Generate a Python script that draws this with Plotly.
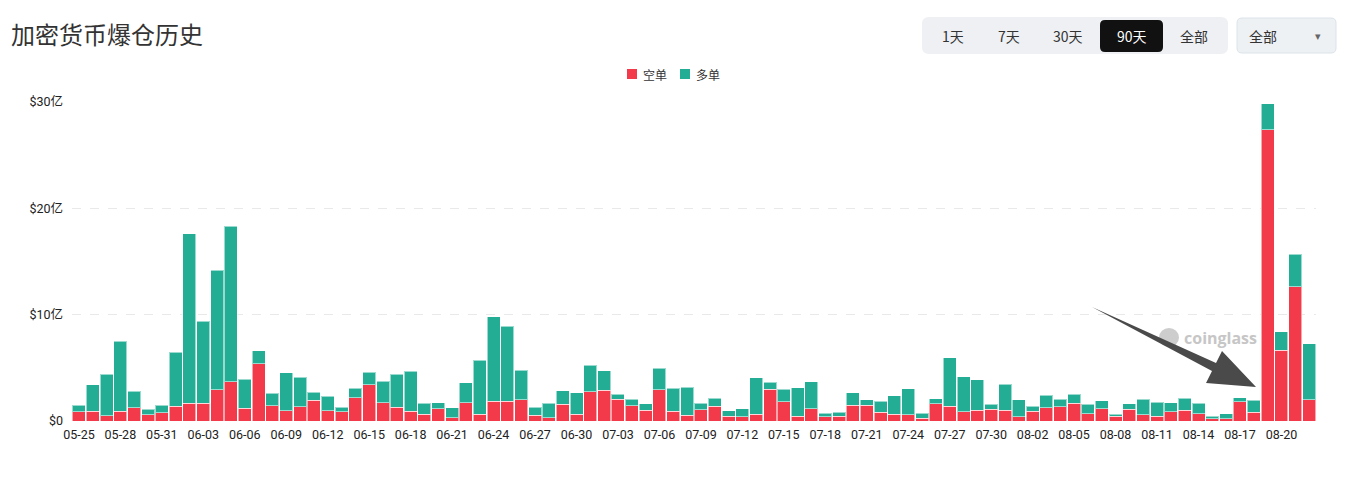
import plotly.graph_objects as go

# Data (单位: 亿美元)
dates = [
    "05-25", "05-26", "05-27", "05-28", "05-29", "05-30", "05-31",
    "06-01", "06-02", "06-03", "06-04", "06-05", "06-06", "06-07", "06-08", "06-09", "06-10",
    "06-11", "06-12", "06-13", "06-14", "06-15", "06-16", "06-17", "06-18", "06-19", "06-20",
    "06-21", "06-22", "06-23", "06-24", "06-25", "06-26", "06-27", "06-28", "06-29", "06-30",
    "07-01", "07-02", "07-03", "07-04", "07-05", "07-06", "07-07", "07-08", "07-09", "07-10",
    "07-11", "07-12", "07-13", "07-14", "07-15", "07-16", "07-17", "07-18", "07-19", "07-20",
    "07-21", "07-22", "07-23", "07-24", "07-25", "07-26", "07-27", "07-28", "07-29", "07-30",
    "07-31", "08-01", "08-02", "08-03", "08-04", "08-05", "08-06", "08-07", "08-08", "08-09",
    "08-10", "08-11", "08-12", "08-13", "08-14", "08-15", "08-16", "08-17", "08-18", "08-19",
    "08-20", "08-21", "08-22",
]
short_liq = [
    0.88, 0.94, 0.50, 0.94, 1.25, 0.60, 0.78,
    1.40, 1.69, 1.69, 2.94, 3.69, 1.22, 5.38, 1.44, 0.97, 1.34,
    1.97, 0.97, 0.88, 2.19, 3.40, 1.72, 1.28, 0.94, 0.63, 1.16,
    0.31, 1.72, 0.63, 1.88, 1.88, 2.00, 0.56, 0.31, 1.56, 0.63,
    2.75, 2.90, 2.03, 1.44, 1.00, 2.94, 0.94, 0.56, 1.06, 1.40,
    0.47, 0.40, 0.63, 3.00, 1.80, 0.47, 1.13, 0.38, 0.44, 1.50,
    1.50, 0.81, 0.63, 0.60, 0.28, 1.60, 1.40, 0.88, 1.00, 1.09,
    1.00, 0.40, 0.90, 1.25, 1.34, 1.69, 0.69, 1.16, 0.44, 1.09,
    0.60, 0.44, 0.88, 1.03, 0.69, 0.22, 0.19, 1.80, 0.84, 27.38,
    6.66, 12.63, 2.00,
]
long_liq = [
    0.60, 2.46, 3.88, 6.56, 1.56, 0.49, 0.72,
    5.07, 15.91, 7.69, 11.26, 14.61, 2.72, 1.25, 1.19, 3.56, 2.79,
    0.72, 1.34, 0.41, 0.90, 1.19, 2.03, 3.10, 3.72, 1.04, 0.56,
    0.94, 1.88, 5.10, 7.91, 7.03, 2.75, 0.72, 1.38, 1.28, 2.04,
    2.50, 1.82, 0.47, 0.59, 0.63, 2.00, 2.12, 2.60, 0.63, 0.73,
    0.50, 0.73, 3.44, 0.66, 1.17, 2.66, 2.57, 0.35, 0.40, 1.16,
    0.50, 1.03, 1.75, 2.43, 0.44, 0.49, 4.54, 3.29, 2.90, 0.47,
    2.44, 1.60, 0.50, 1.15, 0.69, 0.81, 0.87, 0.74, 0.19, 0.54,
    1.46, 1.31, 0.82, 1.10, 1.00, 0.25, 0.50, 0.39, 1.10, 2.47,
    1.72, 3.04, 5.25,
]
y_ticks = [0, 10, 20, 30]
y_tick_labels = ["$0", "$10亿", "$20亿", "$30亿"]
range_buttons = ["1天", "7天", "30天", "90天", "全部"]
series_names = ["空单", "多单"]

RED = "#F33A4A"
GREEN = "#22AD94"
CJK = "Noto Sans CJK SC"

W, H = 1350, 477
ML, MR, MT, MB = 72, 34, 102, 56
PW, PH = W - ML - MR, H - MT - MB


def px(x):
    return (x - ML) / PW


def py(y):
    return (H - MB - y) / PH


def rounded_rect(x0, y0, x1, y1, r):
    # pixel coords -> paper path with rounded corners
    pts = [
        f"M{px(x0 + r)},{py(y0)}",
        f"L{px(x1 - r)},{py(y0)}",
        f"Q{px(x1)},{py(y0)} {px(x1)},{py(y0 + r)}",
        f"L{px(x1)},{py(y1 - r)}",
        f"Q{px(x1)},{py(y1)} {px(x1 - r)},{py(y1)}",
        f"L{px(x0 + r)},{py(y1)}",
        f"Q{px(x0)},{py(y1)} {px(x0)},{py(y1 - r)}",
        f"L{px(x0)},{py(y0 + r)}",
        f"Q{px(x0)},{py(y0)} {px(x0 + r)},{py(y0)}",
        "Z",
    ]
    return " ".join(pts)


fig = go.Figure()

fig.add_trace(go.Bar(
    x=dates, y=short_liq, name=series_names[0],
    marker=dict(color=RED, line=dict(color="rgba(255,255,255,0.55)", width=1)),
))
fig.add_trace(go.Bar(
    x=dates, y=long_liq, name=series_names[1],
    marker=dict(color=GREEN, line=dict(color="rgba(255,255,255,0.55)", width=1)),
))

fig.update_layout(
    width=W, height=H,
    barmode="stack",
    bargap=0.06,
    plot_bgcolor="white",
    paper_bgcolor="white",
    margin=dict(l=ML, r=MR, t=MT, b=MB, autoexpand=False),
    font=dict(family="Roboto, " + CJK, color="#333333", size=11),
    showlegend=False,
    hovermode="x unified",
)

fig.update_xaxes(
    type="category",
    tickvals=dates[::3],
    ticktext=dates[::3],
    tickangle=0,
    showgrid=False,
    showline=False,
    ticks="",
    ticklabelstandoff=4,
    tickfont=dict(family="Roboto", size=12.5, color="#222222"),
)
fig.update_yaxes(
    range=[0, 30],
    tickvals=y_ticks,
    ticktext=y_tick_labels,
    showgrid=True,
    gridcolor="#E9E9E9",
    griddash="dash",
    gridwidth=1,
    zeroline=False,
    showline=False,
    ticks="",
    ticklabelstandoff=8,
    tickfont=dict(family="Roboto, " + CJK, size=12.5, color="#222222"),
)

shapes = []
annotations = []

# title
annotations.append(dict(
    text="加密货币爆仓历史", xref="paper", yref="paper", x=px(9), y=py(33),
    xanchor="left", yanchor="middle", showarrow=False,
    font=dict(family=CJK, size=24, color="#333333"),
))

# legend (drawn by hand to match the compact layout)
for name, color, sx in zip(series_names, [RED, GREEN], [627, 680]):
    shapes.append(dict(type="rect", xref="paper", yref="paper",
                       x0=px(sx), x1=px(sx + 10), y0=py(79), y1=py(69),
                       fillcolor=color, line=dict(width=0), layer="above"))
    annotations.append(dict(
        text=name, xref="paper", yref="paper", x=px(sx + 14), y=py(74),
        xanchor="left", yanchor="middle", showarrow=False,
        font=dict(family=CJK, size=12, color="#333333"),
    ))

# range selector group
shapes.append(dict(type="path", path=rounded_rect(922, 17, 1228, 54, 7), xref="paper", yref="paper",
                   fillcolor="#EEF0F3", line=dict(width=0), layer="above"))
shapes.append(dict(type="path", path=rounded_rect(1100, 20, 1163, 52, 5), xref="paper", yref="paper",
                   fillcolor="#111111", line=dict(width=0), layer="above"))
btn_x = [953, 1009, 1068, 1132, 1194]
for label, bx in zip(range_buttons, btn_x):
    annotations.append(dict(
        text=label, xref="paper", yref="paper", x=px(bx), y=py(36),
        xanchor="center", yanchor="middle", showarrow=False,
        font=dict(family=CJK, size=14, color="white" if label == "90天" else "#333333"),
    ))

# dropdown
shapes.append(dict(type="path", path=rounded_rect(1237, 18, 1336, 53, 5), xref="paper", yref="paper",
                   fillcolor="#EEF1F4", line=dict(width=1, color="#DCE3EA"), layer="above"))
annotations.append(dict(
    text="全部", xref="paper", yref="paper", x=px(1263), y=py(36),
    xanchor="center", yanchor="middle", showarrow=False,
    font=dict(family=CJK, size=14, color="#333333"),
))
annotations.append(dict(
    text="▾", xref="paper", yref="paper", x=px(1318), y=py(37),
    xanchor="center", yanchor="middle", showarrow=False,
    font=dict(family="DejaVu Sans", size=11, color="#666666"),
))

# watermark
shapes.append(dict(type="circle", xref="paper", yref="paper",
                   x0=px(1159), x1=px(1179), y0=py(347), y1=py(328),
                   fillcolor="#CDCDCD", line=dict(width=0), layer="above"))
annotations.append(dict(
    text="<b>coinglass</b>", xref="paper", yref="paper", x=px(1220), y=py(338),
    xanchor="center", yanchor="middle", showarrow=False,
    font=dict(family="Open Sans", size=16, color="#C6C6C6"),
))

# arrow overlay
arrow_pts = [(1092, 307), (1216, 363), (1222, 351), (1256, 387), (1206, 383), (1212, 371)]
arrow_path = "M" + " L".join(f"{px(a)},{py(b)}" for a, b in arrow_pts) + " Z"
shapes.append(dict(type="path", path=arrow_path, xref="paper", yref="paper",
                   fillcolor="#4A4A4A", line=dict(width=0), layer="above"))

fig.update_layout(shapes=shapes, annotations=annotations)

fig.write_html("out.html", config={"displayModeBar": False},
               post_script="document.body.style.margin='0';")
